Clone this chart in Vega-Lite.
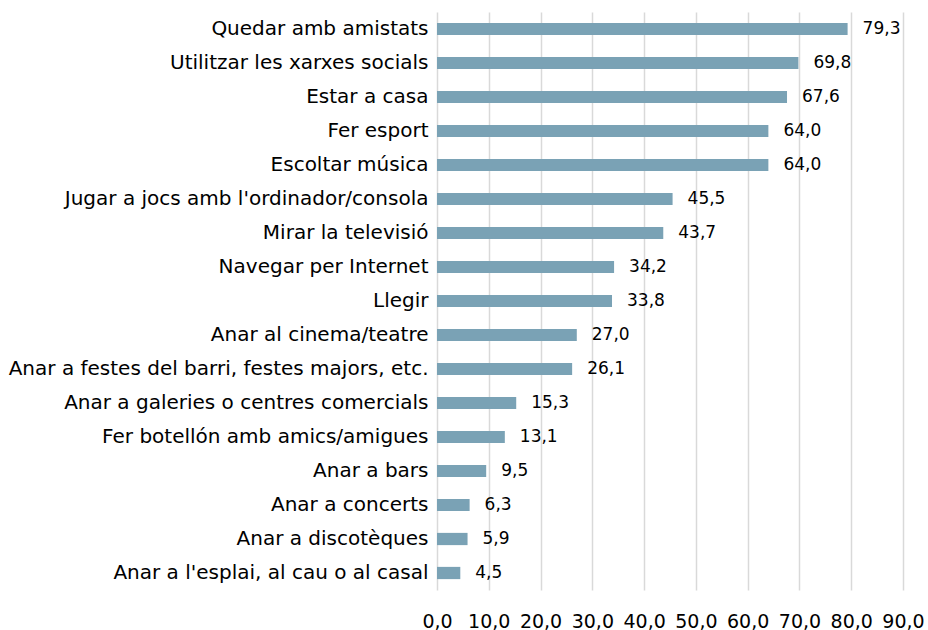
{
  "$schema": "https://vega.github.io/schema/vega-lite/v6.json",
  "width": 466,
  "height": 578,
  "autosize": {"type": "none"},
  "padding": {"left": 437, "top": 12, "right": 25, "bottom": 40},
  "config": {
    "view": {"stroke": null},
    "locale": {"number": {"decimal": ",", "thousands": ".", "grouping": [3], "currency": ["", " €"]}},
    "font": "DejaVu Sans"
  },
  "data": {
    "values": [
      {"activitat": "Quedar amb amistats", "valor": 79.3},
      {"activitat": "Utilitzar les xarxes socials", "valor": 69.8},
      {"activitat": "Estar a casa", "valor": 67.6},
      {"activitat": "Fer esport", "valor": 64.0},
      {"activitat": "Escoltar música", "valor": 64.0},
      {"activitat": "Jugar a jocs amb l'ordinador/consola", "valor": 45.5},
      {"activitat": "Mirar la televisió", "valor": 43.7},
      {"activitat": "Navegar per Internet", "valor": 34.2},
      {"activitat": "Llegir", "valor": 33.8},
      {"activitat": "Anar al cinema/teatre", "valor": 27.0},
      {"activitat": "Anar a festes del barri, festes majors, etc.", "valor": 26.1},
      {"activitat": "Anar a galeries o centres comercials", "valor": 15.3},
      {"activitat": "Fer botellón amb amics/amigues", "valor": 13.1},
      {"activitat": "Anar a bars", "valor": 9.5},
      {"activitat": "Anar a concerts", "valor": 6.3},
      {"activitat": "Anar a discotèques", "valor": 5.9},
      {"activitat": "Anar a l'esplai, al cau o al casal", "valor": 4.5}
    ]
  },
  "encoding": {
    "y": {
      "field": "activitat",
      "type": "nominal",
      "sort": null,
      "scale": {"paddingInner": 0.64, "paddingOuter": 0.32},
      "axis": {
        "title": null,
        "domain": false,
        "ticks": false,
        "labelFontSize": 20,
        "labelColor": "#000000",
        "labelPadding": 9,
        "labelLimit": 500
      }
    },
    "x": {
      "field": "valor",
      "type": "quantitative",
      "scale": {"domain": [0, 90], "nice": false},
      "axis": {
        "title": null,
        "values": [0, 10, 20, 30, 40, 50, 60, 70, 80, 90],
        "format": ".1f",
        "domain": false,
        "ticks": false,
        "grid": true,
        "gridColor": "#d9d9d9",
        "gridWidth": 1.5,
        "labelFontSize": 19,
        "labelColor": "#000000",
        "labelPadding": 22,
        "labelFlush": false
      }
    }
  },
  "layer": [
    {"mark": {"type": "bar", "color": "#7aa2b5"}},
    {
      "mark": {"type": "text", "align": "left", "dx": 15, "fontSize": 17, "color": "#000000"},
      "encoding": {"text": {"field": "valor", "type": "quantitative", "format": ".1f"}}
    }
  ]
}
